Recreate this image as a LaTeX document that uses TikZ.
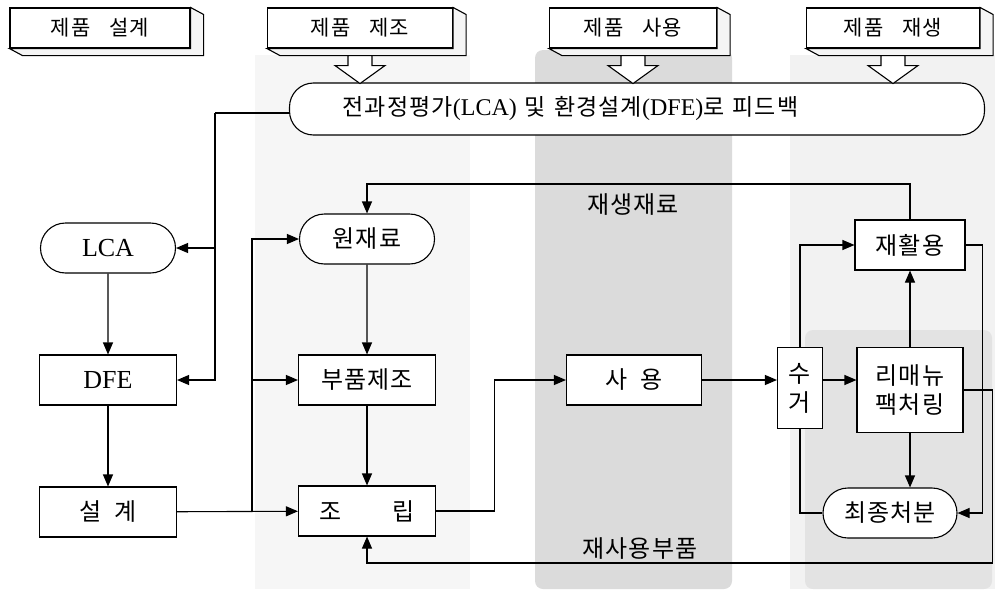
\documentclass[tikz,border=0pt]{standalone}
\usepackage{fontspec}
\setmainfont{Liberation Serif}
\newfontfamily\kr[LetterSpace=5]{Noto Sans CJK KR}
\usetikzlibrary{arrows.meta,shapes.misc,positioning}

\begin{document}
\begin{tikzpicture}[x=1pt,y=-1pt, line width=1.1pt, >={Triangle[length=12pt,width=10pt]},
	box/.style={draw, fill=white, minimum width=137, minimum height=50, inner sep=1, align=center, font=\kr\fontsize{24}{29}\selectfont},
	pill/.style={box, rounded rectangle},
	phase/.style={draw, fill=white, minimum height=40, inner sep=1, font=\kr\fontsize{21}{25}\selectfont},
	tag/.style={inner sep=1, font=\kr\fontsize{24}{28}\selectfont}]
	
	\useasboundingbox (0,0) rectangle (995,589);
	
	% shaded stages
	\fill[gray!7] (255,55) rectangle (470,589);
	\fill[gray!10] (790,55) rectangle (995,589);
	\fill[gray!22, rounded corners=8] (805,330) rectangle (992,589);
	\fill[gray!28, rounded corners=8] (535,50) rectangle (732,589);
	
	\node[phase, minimum width=180] (phDesign) at (100,28) {제품\hspace{0.9em}설계};
	
	\node[phase, minimum width=185] (phMake) at (360,28) {제품\hspace{0.9em}제조};
	
	\node[phase, minimum width=167] (phUse) at (633,28) {제품\hspace{0.9em}사용};
	
	\node[phase, minimum width=173] (phRecycle) at (893,28) {제품\hspace{0.9em}재생};
	
	\foreach \n in {phDesign,phMake,phUse,phRecycle}
		\draw[fill=gray!8] (\n.north east) -- ++(13,7) -- ([shift={(13,7)}]\n.south east)
		-- ([shift={(13,7)}]\n.south west) -- (\n.south west) -- (\n.south east) -- cycle;
	
	\node[draw, fill=white, rounded corners=24, minimum height=52, text width=589, inner xsep=53, inner ysep=1, align=left, font=\fontsize{24}{28}\selectfont] (fb) at (637,109) {{\kr\fontsize{23}{28}\selectfont 전과정평가}(LCA) {\kr\fontsize{23}{28}\selectfont 및 환경설계}(DFE){\kr\fontsize{23}{28}\selectfont 로 피드백}};
	
	\foreach \n in {phMake,phUse,phRecycle}
		\draw[fill=white] (\n.south) ++(-12,7) -- ++(24,0) -- ++(0,10) -- ++(13,0) -- ++(-25,18) -- ++(-25,-18) -- ++(13,0) -- cycle;
	
	\node[pill, font=\fontsize{26}{30}\selectfont] (lca) at (108,248) {LCA};
	
	\node[box, font=\fontsize{26}{30}\selectfont] (dfe) at (108,380) {DFE};
	
	\node[box] (design) at (108,512) {설\hspace{0.5em}계};
	
	\node[pill] (raw) at (367,239) {원재료};
	
	\node[box] (parts) at (367,380) {부품제조};
	
	\node[box] (assy) at (367,511) {조\hspace{2.1em}립};
	
	\node[box, minimum width=135] (use) at (634,380) {사\hspace{0.55em}용};
	
	\node[box, minimum width=45, minimum height=81] (coll) at (800,388) {수\\거};
	
	\node[box, minimum width=106, minimum height=85] (remf) at (910,390) {리매뉴\\팩처링};
	
	\node[box, minimum width=110] (recy) at (910,245) {재활용};
	
	\node[pill, minimum width=136] (disp) at (890,513) {최종처분};
	
	\node[tag] (lblRecyc) at (633,205) {재생재료};
	
	\node[tag] (lblReuse) at (640,549) {재사용부품};
	
	\coordinate (fbturn) at (215,113);
	\coordinate (split) at (252,512);
	\coordinate (recbar) at (634,184);
	\coordinate (reusebar) at (634,563);
	
	\draw (fb.west |- fbturn) -- (fbturn);
	\draw[->] (fbturn) |- (lca.east);
	\draw[->] (fbturn) |- (dfe.east);
	\draw[->] (lca) -- (dfe);
	\draw[->] (dfe) -- (design);
	\draw[->] (design) -- (assy);
	\draw[->] (split) |- (raw.west);
	\draw[->] (split) |- (parts.west);
	\draw[->] (raw) -- (parts);
	\draw[->] (parts) -- (assy);
	\draw[->] (assy.east) -- ++(58,0) |- (use.west);
	\draw[->] (use.east) -- (use.east -| coll.west);
	\draw[->] (coll.east |- use.east) -- (remf.west |- use.east);
	\draw[->] (coll.north) |- (recy.west);
	\draw (coll.south) |- (disp.west);
	\draw[->] (remf) -- (recy);
	\draw[->] (remf.south) -- (remf.south |- disp.north);
	\draw[->] (recy.east) -- ++(17,0) |- (disp.east);
	\draw[->] (recy.north) |- (recbar) -| (raw.north);
	\draw[->] (remf.east) -- ++(29,0) |- (reusebar) -| (assy.south);
	
\end{tikzpicture}
\end{document}
